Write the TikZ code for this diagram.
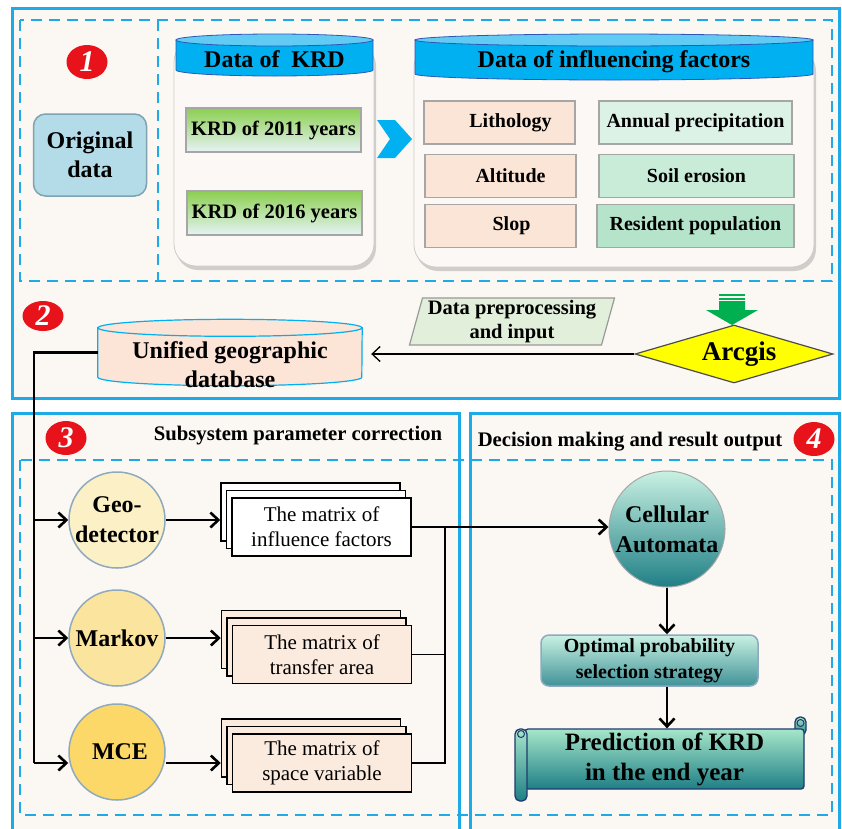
\documentclass[tikz,border=0pt]{standalone}
\usepackage{fontspec}
\setmainfont{Liberation Serif}
\usetikzlibrary{shapes.geometric,shadows,arrows.meta}
\definecolor{frameblue}{HTML}{1EAAE6}
\definecolor{panelbg}{HTML}{FBF7F3}
\definecolor{cylcream}{HTML}{FCF8F5}
\definecolor{numred}{HTML}{E8121A}
\definecolor{headblue}{HTML}{00B0F0}
\definecolor{headtop}{HTML}{62CBF3}
\definecolor{headedge}{HTML}{3056B5}
\definecolor{origblue}{HTML}{B4DCE8}
\definecolor{origedge}{HTML}{7FA3B0}
\definecolor{krdgreen}{HTML}{8CCF50}
\definecolor{krdlight}{HTML}{E6F3F6}
\definecolor{peach}{HTML}{FBE5D6}
\definecolor{minta}{HTML}{DDF2E6}
\definecolor{mintb}{HTML}{C9ECD9}
\definecolor{mintc}{HTML}{B5E4CB}
\definecolor{dbpeach}{HTML}{FCE4D6}
\definecolor{paragreen}{HTML}{E2EFDA}
\definecolor{arrowgreen}{HTML}{00B050}
\definecolor{gisyellow}{HTML}{FFFF00}
\definecolor{circa}{HTML}{FCF0C6}
\definecolor{circb}{HTML}{FBE49D}
\definecolor{circc}{HTML}{FCD868}
\definecolor{circedge}{HTML}{8FA9BE}
\definecolor{docpeach}{HTML}{FBEADE}
\definecolor{tealtop}{HTML}{C9F1E2}
\definecolor{tealbot}{HTML}{1F7F86}
\definecolor{predtop}{HTML}{A6E6C9}
\definecolor{scrolledge}{HTML}{1F3A6E}

\begin{document}
\begin{tikzpicture}[x=1pt,y=-1pt,
    >={Straight Barb[length=8pt,width=15pt]},
    frame/.style={draw=frameblue,line width=3pt,fill=panelbg},
    dashframe/.style={draw=frameblue,line width=2.6pt,dash pattern=on 11pt off 7pt},
    numdot/.style={ellipse,minimum width=41pt,minimum height=34pt,inner sep=0pt,fill=numred,text=white,font=\bfseries\itshape\fontsize{30}{30}\selectfont},
    sectitle/.style={font=\bfseries\fontsize{20.7}{24}\selectfont},
    cylbody/.style={fill=cylcream,draw=black!20,line width=.8pt,rounded corners=22pt,drop shadow={opacity=.35,shadow xshift=2pt,shadow yshift=-4pt}},
    cylhead/.style={fill=headblue,draw=headedge,line width=.8pt},
    cyltop/.style={fill=headtop,draw=headedge,line width=.8pt},
    headtext/.style={font=\bfseries\fontsize{24}{28}\selectfont},
    origbox/.style={rounded corners=12pt,fill=origblue,draw=origedge,line width=1.5pt,minimum width=113pt,minimum height=82pt,align=center,font=\bfseries\fontsize{24}{29}\selectfont},
    krdbox/.style={draw=black!35,line width=1.2pt,top color=krdgreen,bottom color=krdlight,minimum width=175pt,minimum height=44pt,font=\bfseries\fontsize{20.5}{24}\selectfont},
    facbox/.style={draw=black!35,line width=1.2pt,fill=#1,minimum height=43pt,font=\bfseries\fontsize{20}{24}\selectfont},
    dbshape/.style={fill=dbpeach,draw=headblue,line width=1.2pt},
    prepbox/.style={trapezium,trapezium left angle=73,trapezium right angle=107,trapezium stretches body,fill=paragreen,draw=black!40,line width=1.2pt,minimum width=205pt,minimum height=47pt,inner sep=0pt,align=center,font=\bfseries\fontsize{20.5}{24}\selectfont},
    gisbox/.style={diamond,aspect=3.4,fill=gisyellow,draw=black!70,line width=1.2pt,minimum width=198pt,minimum height=58pt,inner sep=0pt,font=\bfseries\fontsize{27}{30}\selectfont},
    link/.style={draw=black,line width=1.3pt},
    trunkline/.style={draw=black,line width=2.6pt},
    method/.style={circle,fill=#1,draw=circedge,line width=1.5pt,minimum size=96pt,inner sep=0pt,align=center,font=\bfseries\fontsize{24}{30}\selectfont},
    docstack/.style={fill=#1,draw=black,line width=1.5pt,minimum width=179pt,minimum height=58pt,align=center,font=\fontsize{21}{25}\selectfont,
      copy shadow={shadow xshift=-11pt,shadow yshift=15pt,fill=#1,draw=black,line width=1.5pt},
      copy shadow={shadow xshift=-5.5pt,shadow yshift=7.5pt,fill=#1,draw=black,line width=1.5pt}},
    caball/.style={circle,top color=tealtop,bottom color=tealbot,draw=black!35,line width=1pt,minimum size=116pt,inner sep=0pt,align=center,font=\bfseries\fontsize{24}{30}\selectfont},
    optbox/.style={rounded corners=8pt,top color=tealtop,bottom color=tealbot!85,draw=circedge,line width=1.5pt,minimum width=217pt,minimum height=51pt,align=center,font=\bfseries\fontsize{20}{26}\selectfont},
    predbody/.style={rounded corners=3pt,top color=predtop,bottom color=tealbot,draw=scrolledge,line width=1.3pt,minimum width=279pt,minimum height=60pt,align=center,font=\bfseries\fontsize{25}{30}\selectfont},
    roll/.style={top color=predtop,bottom color=tealbot,draw=scrolledge,line width=1.3pt,rounded corners=5pt}]
  \useasboundingbox (0,0) rectangle (842,828);
  \fill[white] (0,0) rectangle (842,828);

  \path[frame] (12,8) rectangle (839,398);
  \path[frame] (12,413) rectangle (459,840);
  \path[frame] (470,413) rectangle (839,840);
  \draw[dashframe] (20,20) rectangle (832,281);
  \draw[dashframe] (158,20) -- (158,281);
  \draw[dashframe] (20,460) rectangle (832,815);

  \node[numdot] (n1) at (87,62) {1};
  \node[origbox] (orig) at (90,155) {Original\\data};

  \path[cylbody] (174,40) rectangle (374,266);
  \path[cylhead] (176,40) -- (176,70) arc[start angle=180,end angle=0,x radius=98.5,y radius=6] -- (373,40) -- cycle;
  \path[cyltop] (274.5,40) ellipse[x radius=98.5,y radius=6];
  \node[headtext] (krdhead) at (274.5,59) {Data of\ \ KRD};
  \node[krdbox] (k2011) at (273.5,130) {KRD of 2011 years};
  \node[krdbox] (k2016) at (274.5,213) {KRD of 2016 years};

  \fill[headblue] (377,120) -- (395,120) -- (412,139) -- (395,158) -- (377,158) -- (390,139) -- cycle;

  \path[cylbody] (414,45) rectangle (814,267);
  \path[cylhead] (415,40) -- (415,74) arc[start angle=180,end angle=0,x radius=199,y radius=6] -- (813,40) -- cycle;
  \path[cyltop] (614,40) ellipse[x radius=199,y radius=6];
  \node[headtext] (fachead) at (614,62) {Data of influencing factors};
  \node[facbox=peach,minimum width=151pt] (litho) at (499.5,122.5) {\hspace*{22pt}Lithology};
  \node[facbox=peach,minimum width=151pt] (alti) at (500.5,176) {\hspace*{20pt}Altitude};
  \node[facbox=peach,minimum width=151pt] (slop) at (500.5,226) {\hspace*{22pt}Slop};
  \node[facbox=minta,minimum width=193pt] (precip) at (695.5,122.5) {Annual precipitation};
  \node[facbox=mintb,minimum width=195pt] (soil) at (696.5,176) {Soil erosion};
  \node[facbox=mintc,minimum width=197pt] (popu) at (695.5,226) {Resident population};

  \node[numdot,minimum height=30pt] (n2) at (43,316) {2};
  \node[inner sep=0pt,minimum width=264pt,minimum height=49pt] (db) at (230,352.5) {};
  \path[dbshape] (db.north west) -- (db.south west) arc[start angle=180,end angle=0,x radius=132,y radius=8.5] -- (db.north east) -- cycle;
  \path[dbshape] (db.north) ellipse[x radius=132,y radius=8.5];
  \node[font=\bfseries\fontsize{24}{29}\selectfont,align=center] (dbtext) at (230,365) {Unified geographic\\database};
  \node[prepbox] (prep) at (512,321.5) {Data preprocessing\\and input};
  \node[gisbox] (gis) at (734,354) {\hspace*{10pt}Arcgis};
  \fill[arrowgreen] (719,294) rectangle (745,296);
  \fill[arrowgreen] (719,297.5) rectangle (745,299.5);
  \fill[arrowgreen] (719,301) -- (745,301) -- (745,310) -- (758,310) -- (732,325) -- (706,310) -- (719,310) -- cycle;
  \draw[link,->,shorten >=9pt] (gis.west) -- (gis.west -| db.east);

  \node[numdot] (n3) at (66,438) {3};
  \node[sectitle] (subtitle) at (298,436) {Subsystem parameter correction};
  \node[method=circa] (geo) at (117,520) {Geo-\\detector};
  \node[method=circb] (markov) at (117,638) {Markov};
  \node[method=circc] (mce) at (117,752) {\hspace*{6pt}MCE};
  \node[docstack=white] (doc1) at (321.5,527) {The matrix of\\influence factors};
  \node[docstack=docpeach] (doc2) at (322,654.5) {The matrix of\\transfer area};
  \node[docstack=docpeach] (doc3) at (322,763) {The matrix of\\space variable};

  \coordinate (trunk) at (34,763);
  \draw[trunkline] (db.west) -| (trunk);
  \draw[trunkline,->] (geo.west -| trunk) -- (geo.west);
  \draw[trunkline,->] (markov.west -| trunk) -- (markov.west);
  \draw[trunkline,->] (trunk) -- (trunk -| mce.west);
  \draw[trunkline,->,shorten >=11pt] (geo.east) -- (geo.east -| doc1.west);
  \draw[trunkline,->,shorten >=11pt] (markov.east) -- (markov.east -| doc2.west);
  \draw[trunkline,->,shorten >=11pt] (doc3.west -| mce.east) -- (doc3.west);

  \node[sectitle] (dectitle) at (630,442) {Decision making and result output};
  \node[numdot] (n4) at (814,439) {4};
  \node[caball] (ca) at (667,529) {Cellular\\Automata};
  \node[optbox] (opt) at (649.5,660.5) {Optimal probability\\selection strategy};
  \path[roll] (795,717) rectangle (806,735);
  \draw[scrolledge,line width=1pt] (800.5,723) circle[radius=3.5];
  \node[predbody] (pred) at (664.5,759) {Prediction of KRD\\in the end year};
  \path[roll] (515,729) rectangle (527,801);
  \draw[scrolledge,line width=1pt] (521,734) circle[radius=3.5];

  \coordinate (merge) at (445,527);
  \draw[link] (doc2.east) -| (merge);
  \draw[link] (doc3.east) -| (merge);
  \draw[trunkline,->] (doc1.east) -- (doc1.east -| ca.west);
  \draw[trunkline,->] (ca.south) -- (ca.south |- opt.north);
  \draw[trunkline,->] (opt.south -| ca.south) -- (ca.south |- pred.north);
\end{tikzpicture}
\end{document}
